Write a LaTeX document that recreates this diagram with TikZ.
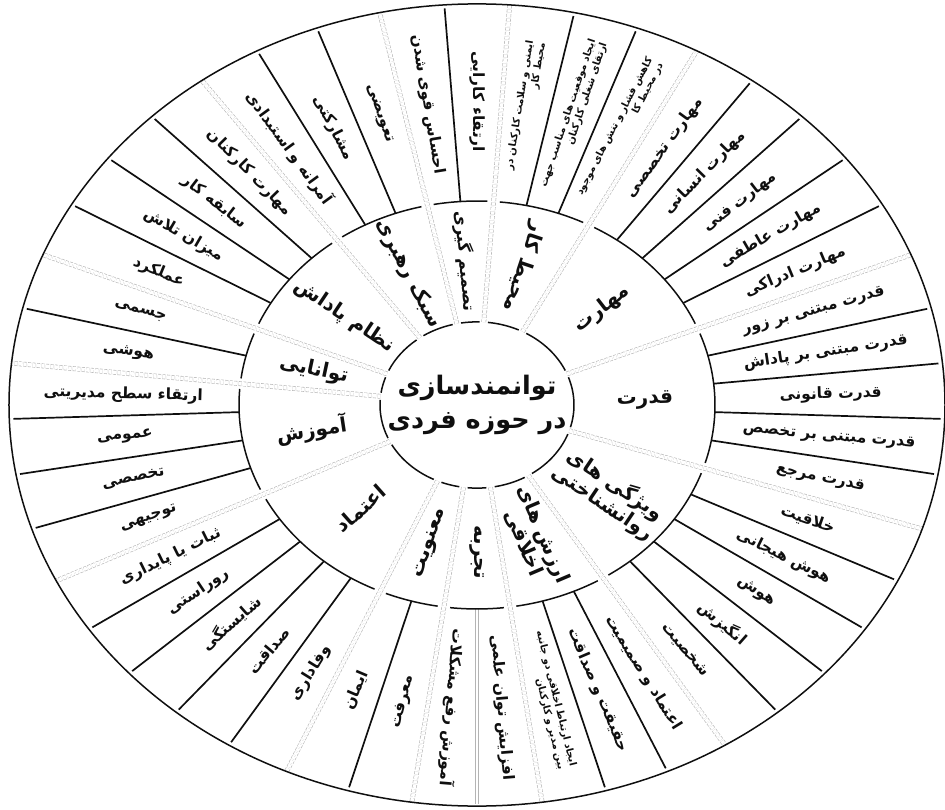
\documentclass[tikz,border=0pt]{standalone}
\usepackage{fontspec}
\newfontfamily\arabicfont[Script=Arabic]{DejaVu Sans}
\TeXXeTstate=1
\newcommand{\fa}[1]{\beginR #1\endR}

\begin{document}
\begin{tikzpicture}[x=1pt,y=0.857pt]
  \definecolor{ink}{RGB}{15,15,15}
  \definecolor{soft}{RGB}{180,180,180}
  \tikzset{
    rim/.style={ink, line width=1.5pt},
    spoke/.style={ink, line width=1.7pt},
    border/.style={soft, line width=0.6pt, double=white, double distance=3.6pt, dash pattern=on 3pt off 1.5pt},
    split/.style={soft, line width=0.6pt, double=white, double distance=2.4pt},
    item/.style={ink, inner sep=0.5pt, font=\arabicfont\bfseries\fontsize{15.5}{17}\selectfont},
    note/.style={ink, inner sep=0.5pt, align=right, font=\arabicfont\bfseries\fontsize{10}{12}\selectfont},
    part/.style={ink, inner sep=0.5pt, align=center, font=\arabicfont\bfseries\fontsize{20}{22}\selectfont},
    core/.style={ink, align=center, font=\arabicfont\bfseries\fontsize{25.5}{34}\selectfont}
  }
  \useasboundingbox (-477pt,-404pt) rectangle (468pt,405pt);

  % category borders
  \foreach \b in {22,62,86,102,126,158,174,206,246,262,278,302,342}
    \draw[border] (\b:97) -- (\b:468);
  \draw[split] (270:238) -- (270:466);

  % inner and middle arcs
  \foreach \s/\e in {22/62,62/86,86/102,102/126,126/158,158/174,174/206,
                     206/246,246/262,262/278,278/302,302/342,342/382} {
    \pgfmathsetmacro\sa{\s+2.5}
    \pgfmathsetmacro\ea{\e-2.5}
    \draw[rim] (\sa:97) arc[start angle=\sa, end angle=\ea, radius=97];
    \pgfmathsetmacro\sb{\s+1.5}
    \pgfmathsetmacro\eb{\e-1.5}
    \draw[rim] (\sb:238) arc[start angle=\sb, end angle=\eb, radius=238];
  }

  % item separators
  \foreach \b in {30,38,46,54,70,78,94,110,118,134,142,150,166,182,190,198,
                  214,222,230,238,254,286,294,310,318,326,334,350,358,6,14}
    \draw[spoke] (\b:238) -- (\b:464);

  % outer items
  \foreach \a/\txt in {
    346/قدرت مرجع,
    354/قدرت مبتنی بر تخصص,
    2/قدرت قانونی,
    10/قدرت مبتنی بر پاداش,
    18/قدرت مبتنی بر زور,
    26/مهارت ادراکی,
    34/مهارت عاطفی,
    42/مهارت فنی,
    50/مهارت انسانی,
    58/مهارت تخصصی,
    90/ارتقاء کارایی,
    98/احساس قوی شدن,
    106/تعویضی,
    114/مشارکتی,
    122/آمرانه و استبدادی,
    130/مهارت کارکنان,
    138/سابقه کار,
    146/میزان تلاش,
    154/عملکرد,
    162/جسمی,
    170/هوشی,
    178/ارتقاء سطح مدیریتی,
    186/عمومی,
    194/تخصصی,
    202/توجیهی,
    210/ثبات یا پایداری,
    218/روراستی,
    226/شایستگی,
    234/صداقت,
    242/وفاداری,
    250/ایمان,
    258/معرفت,
    266/آموزش رفع مشکلات,
    274/افزایش توان علمی,
    290/حقیقت و صداقت,
    298/اعتماد و صمیمیت,
    306/شخصیت,
    314/انگیزش,
    322/هوش,
    330/هوش هیجانی,
    338/خلاقیت
  } {
    \pgfmathsetmacro\f{and(\a>86,\a<262)*180}
    \pgfmathsetmacro\rot{atan2(0.857*sin(\a),cos(\a))+\f}
    \node[item, rotate=\rot] (sub-\a) at (\a:354) {\fa{\txt}};
  }

  % two-line items
  \foreach \a/\one/\two in {
    66/کاهش فشار و تنش های موجود/در محیط کا,
    74/ایجاد موقعیت های مناسب جهت/ارتقای شغلی کارکنان,
    82/ایمنی و سلامت کارکنان در/محیط کار,
    282/ایجاد ارتباط اخلاقی دو جانبه/بین مدیر و کارکنان
  } {
    \pgfmathsetmacro\rot{atan2(0.857*sin(\a),cos(\a))}
    \node[note, rotate=\rot] (sub-\a) at (\a:352) {\fa{\one}\\\fa{\two}};
  }

  % middle ring
  \foreach \a/\f/\txt in {
    2/0/قدرت,
    42/0/مهارت,
    74/180/محیط کار,
    114/180/سبک رهبری,
    142/180/نظام پاداش,
    166/180/توانایی,
    190/180/آموزش,
    226/180/اعتماد,
    254/180/معنویت,
    270/0/تجربه
  } {
    \pgfmathsetmacro\rot{atan2(0.857*sin(\a),cos(\a))+\f}
    \node[part, rotate=\rot] (part-\a) at (\a:168) {\fa{\txt}};
  }
  \node[part, font=\arabicfont\bfseries\fontsize{16.5}{18}\selectfont, rotate=-85.4] (part-94) at (94:168) {\fa{تصمیم گیری}};
  \node[part, rotate=-67] (part-290) at (290:166) {\fa{ارزش های}\\\fa{اخلاقی}};
  \node[part, rotate=-34] (part-322) at (322:168) {\fa{ویژگی های}\\\fa{روانشناختی}};

  % centre
  \node[core] (core) at (0,0) {\fa{توانمندسازی}\\\fa{در حوزه فردی}};

  % outer rim
  \draw[rim] (0,0) circle[radius=468];
\end{tikzpicture}
\end{document}
